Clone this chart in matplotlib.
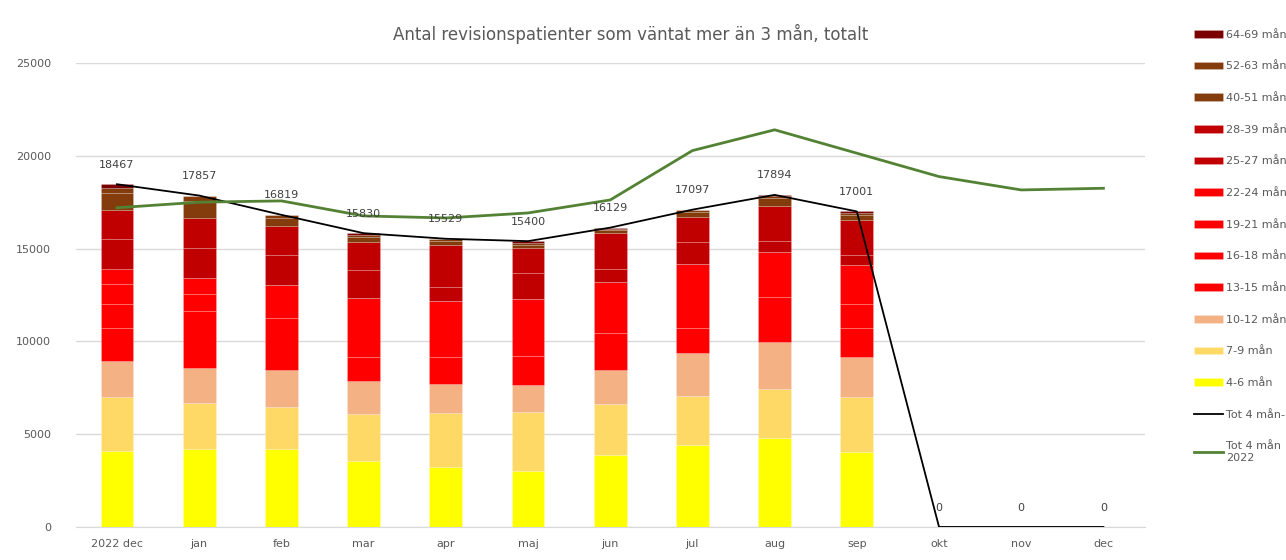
import numpy as np
import matplotlib.pyplot as plt

manader = ["2022 dec", "jan", "feb", "mar", "apr", "maj", "jun", "jul", "aug", "sep", "okt", "nov", "dec"]

# antal patienter per väntetidsgrupp (okt-dec saknas = 0)
m4_6 = [4100, 4190, 4220, 3560, 3250, 3040, 3860, 4420, 4800, 4030, 0, 0, 0]
m7_9 = [2890, 2490, 2270, 2510, 2880, 3140, 2750, 2630, 2620, 2960, 0, 0, 0]
m10_12 = [1940, 1890, 1960, 1780, 1580, 1470, 1850, 2330, 2550, 2170, 0, 0, 0]
m13_15 = [1810, 3060, 2800, 1330, 1440, 1550, 2000, 1330, 2400, 1550, 0, 0, 0]
m16_18 = [1290, 930, 1810, 3150, 3000, 3070, 2730, 3470, 2470, 1310, 0, 0, 0]
m19_21 = [1080, 880, 0, 0, 0, 0, 0, 0, 0, 2100, 0, 0, 0]
m22_24 = [810, 0, 0, 0, 0, 0, 0, 0, 0, 0, 0, 0, 0]
m25_27 = [1600, 1600, 1600, 1500, 800, 1400, 700, 1200, 590, 540, 0, 0, 0]
m28_39 = [1566, 1600, 1560, 1550, 2250, 1350, 1960, 1310, 1870, 1890, 0, 0, 0]
m40_51 = [900, 900, 450, 250, 200, 200, 150, 300, 400, 250, 0, 0, 0]
m52_63 = [270, 270, 149, 110, 100, 70, 50, 100, 160, 110, 0, 0, 0]
m64_69 = [211, 47, 0, 90, 29, 110, 79, 7, 34, 91, 0, 0, 0]

tot_4man = [18467, 17857, 16819, 15830, 15529, 15400, 16129, 17097, 17894, 17001, 0, 0, 0]
tot_4man_2022 = [17200, 17500, 17570, 16760, 16650, 16920, 17620, 20280, 21400, 20140, 18880, 18160, 18250]

grupper = [
    ("4-6 mån", m4_6, "#FFFF00"),
    ("7-9 mån", m7_9, "#FFD966"),
    ("10-12 mån", m10_12, "#F4B183"),
    ("13-15 mån", m13_15, "#FF0000"),
    ("16-18 mån", m16_18, "#FF0000"),
    ("19-21 mån", m19_21, "#FF0000"),
    ("22-24 mån", m22_24, "#FF0000"),
    ("25-27 mån", m25_27, "#C00000"),
    ("28-39 mån", m28_39, "#C00000"),
    ("40-51 mån", m40_51, "#843C0C"),
    ("52-63 mån", m52_63, "#843C0C"),
    ("64-69 mån", m64_69, "#7B0000"),
]

fig = plt.figure(figsize=(12.86, 5.6), dpi=100)
ax = fig.add_axes([0.059, 0.059, 0.831, 0.8285])

x = np.arange(len(manader))
bottom = np.zeros(len(manader))
handles = []
for namn, vals, farg in grupper:
    vals = np.array(vals, dtype=float)
    b = ax.bar(x, vals, 0.4, bottom=bottom, color=farg,
               edgecolor=(1, 1, 1, 0.2), linewidth=0.6, label=namn, zorder=2)
    handles.append(b)
    bottom += vals

l1, = ax.plot(x, tot_4man, color="black", lw=1.3, zorder=3, label="Tot 4 mån-")
l2, = ax.plot(x, tot_4man_2022, color="#548235", lw=2.0, zorder=3, label="Tot 4 mån\n2022")

for xi, v in zip(x, tot_4man):
    ax.annotate(str(v), (xi, v), xytext=(0, 14), textcoords="offset points",
                ha="center", va="center", fontsize=8, color="#404040")

ax.set_xlim(-0.5, len(manader) - 0.5)
ax.set_ylim(0, 25000)
ax.set_yticks(range(0, 25001, 5000))
ax.set_xticks(x)
ax.set_xticklabels(manader)
ax.grid(axis="y", color="#D9D9D9", lw=1, zorder=0)
for s in ["top", "right", "left"]:
    ax.spines[s].set_visible(False)
ax.spines["bottom"].set_color("#D9D9D9")
ax.tick_params(axis="both", length=0, labelsize=8, colors="#595959", pad=9)
ax.tick_params(axis="y", pad=18)

fig.text(0.49, 0.94, "Antal revisionspatienter som väntat mer än 3 mån, totalt",
         ha="center", va="center", fontsize=12, color="#595959")

leg_h = handles[::-1] + [l1, l2]
leg_l = [h.get_label() for h in leg_h]
fig.legend(leg_h, leg_l, loc="upper left", bbox_to_anchor=(0.925, 0.955),
           frameon=False, fontsize=8, labelcolor="#595959", handlelength=2.6,
           handletextpad=0.3, labelspacing=1.95, borderaxespad=0)

fig.savefig("out.png", dpi=100)
